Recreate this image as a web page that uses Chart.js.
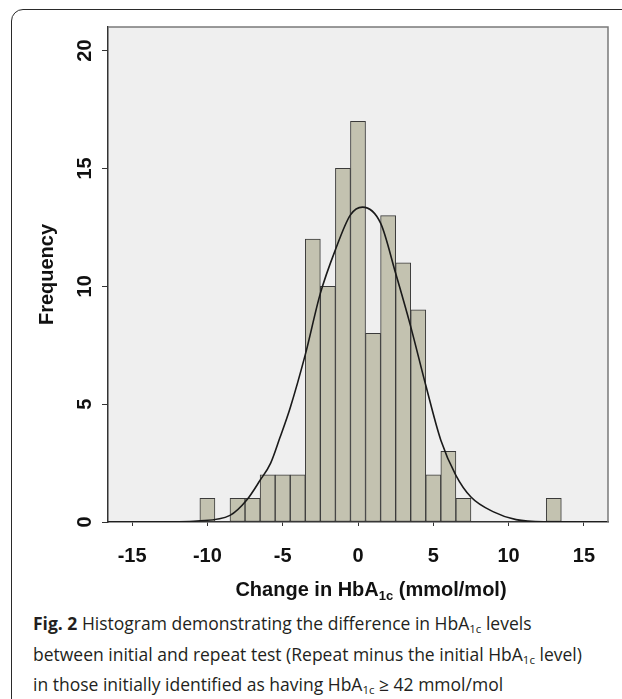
<!DOCTYPE html>
<html>
<head>
<meta charset="utf-8">
<script src="https://cdn.jsdelivr.net/npm/chart.js@4.4.1/dist/chart.umd.min.js"></script>
<style>
    body { margin: 0; background: #fff; width: 622px; height: 699px; overflow: hidden; position: relative; }
    #frame { position: absolute; left: 11px; top: 9px; width: 660px; height: 730px; border: 1.5px solid #2a2a2a; border-radius: 12px; }
    #wrap { position: absolute; left: 0; top: 0; width: 622px; height: 610px; }
    #xtitle { position: absolute; top: 578px; left: 371px; transform: translateX(-50%); white-space: nowrap;
              font: bold 20px "Liberation Sans", Arial, sans-serif; color: #111; }
    #xtitle sub { font-size: 13px; vertical-align: -4px; }
    #caption { position: absolute; left: 33px; top: 611px; width: 600px; white-space: nowrap;
               font-family: "Open Sans", sans-serif; font-size: 17.5px; line-height: 25.5px; color: #231f20; }
    #caption sub { font-size: 11.5px; vertical-align: -3px; }
</style>
</head>
<body>
<div id="frame"></div>
<div id="wrap"><canvas id="histChart"></canvas></div>
<div id="xtitle">Change in HbA<sub>1c</sub> (mmol/mol)</div>
<div id="caption"><b>Fig. 2</b> Histogram demonstrating the difference in HbA<sub>1c</sub> levels<br>between initial and repeat test (Repeat minus the initial HbA<sub>1c</sub> level)<br>in those initially identified as having HbA<sub>1c</sub> ≥ 42 mmol/mol</div>
<script>
// bin centres (mmol/mol) and how many people fell in each
const bins   = [-10, -8, -7, -6, -5, -4, -3, -2, -1, 0, 1, 2, 3, 4, 5, 6, 7, 13];
const counts = [1, 1, 1, 2, 2, 2, 12, 10, 15, 17, 8, 13, 11, 9, 2, 3, 1, 1];

// normal curve, points
const curveX = [-16.6, -12, -10.7, -8.5, -7.4, -6.5, -5.8, -5.2, -4.5, -3.5, -2.5, -1.5, -0.5, 0.3,
                1.5, 2.5, 3.5, 4.5, 5.5, 6.5, 7.5, 9.0, 10.5, 12.5, 16.6];
const curveY = [0, 0.01, 0.04, 0.28, 0.92, 1.77, 2.5, 3.55, 4.85, 7.1, 9.7, 11.55, 13.03, 13.36,
                12.68, 10.55, 8.29, 5.8, 3.47, 1.98, 1.06, 0.43, 0.1, 0.01, 0];

const xTicks = [-15, -10, -5, 0, 5, 10, 15];
const yTicks = [0, 5, 10, 15, 20];

const axisFont = { family: '"Liberation Sans", Arial, sans-serif', size: 20, weight: 'bold' };

// light grey plot background and the grey top/right frame
const plotFrame = {
    id: 'plotFrame',
    beforeDraw(chart) {
        const { ctx, chartArea: a } = chart;
        ctx.save();
        ctx.fillStyle = '#efefef';
        ctx.fillRect(a.left, a.top, a.right - a.left, a.bottom - a.top);
        ctx.restore();
    },
    afterDraw(chart) {
        const { ctx, chartArea: a } = chart;
        ctx.save();
        ctx.strokeStyle = '#7a7a7a';
        ctx.lineWidth = 1.5;
        ctx.beginPath();
        ctx.moveTo(a.left, a.top);
        ctx.lineTo(a.right, a.top);
        ctx.lineTo(a.right, a.bottom);
        ctx.stroke();

        // y tick labels are rotated in the original
        const y = chart.scales.y;
        ctx.fillStyle = '#111';
        ctx.font = 'bold 20px "Liberation Sans", Arial, sans-serif';
        ctx.textAlign = 'center';
        ctx.textBaseline = 'middle';
        yTicks.forEach(v => {
            ctx.save();
            ctx.translate(84, y.getPixelForValue(v));
            ctx.rotate(-Math.PI / 2);
            ctx.fillText(String(v), 0, 1);
            ctx.restore();
        });
        ctx.restore();
    }
};

const ctx = document.getElementById('histChart').getContext('2d');
new Chart(ctx, {
    data: {
        datasets: [{
            type: 'line',
            data: curveX.map((x, i) => ({ x: x, y: curveY[i] })),
            borderColor: '#1a1a1a',
            borderWidth: 1.6,
            pointRadius: 0,
            cubicInterpolationMode: 'monotone',
            order: 0
        }, {
            type: 'bar',
            data: bins.map((b, i) => ({ x: b, y: counts[i] })),
            backgroundColor: '#c3c2b0',
            borderColor: '#3a3a3a',
            borderWidth: 1,
            borderSkipped: false,
            barPercentage: 1,
            categoryPercentage: 1,
            order: 1
        }]
    },
    options: {
        responsive: true,
        maintainAspectRatio: false,
        animation: false,
        layout: { padding: { top: 27, right: 14, left: 0, bottom: 0 } },
        plugins: { legend: { display: false }, tooltip: { enabled: false } },
        scales: {
            x: {
                type: 'linear',
                offset: false,
                min: -16.6,
                max: 16.6,
                afterBuildTicks: s => { s.ticks = xTicks.map(v => ({ value: v })); },
                afterFit: s => { s.height = 88; },
                ticks: { font: axisFont, color: '#111', padding: 18, maxRotation: 0 },
                grid: { offset: false, drawOnChartArea: false, drawTicks: true, tickLength: 4, color: '#333' },
                border: { color: '#333', width: 1.5 }
            },
            y: {
                min: 0,
                max: 21,
                afterBuildTicks: s => { s.ticks = yTicks.map(v => ({ value: v })); },
                afterFit: s => { s.width = 108; },
                ticks: { color: 'rgba(0,0,0,0)', font: axisFont },
                grid: { drawOnChartArea: false, drawTicks: true, tickLength: 6, color: '#333' },
                border: { color: '#333', width: 1.5 },
                title: { display: true, text: 'Frequency', font: axisFont, color: '#111', padding: { top: 35, bottom: 0 } }
            }
        }
    },
    plugins: [plotFrame]
});
</script>
</body>
</html>
